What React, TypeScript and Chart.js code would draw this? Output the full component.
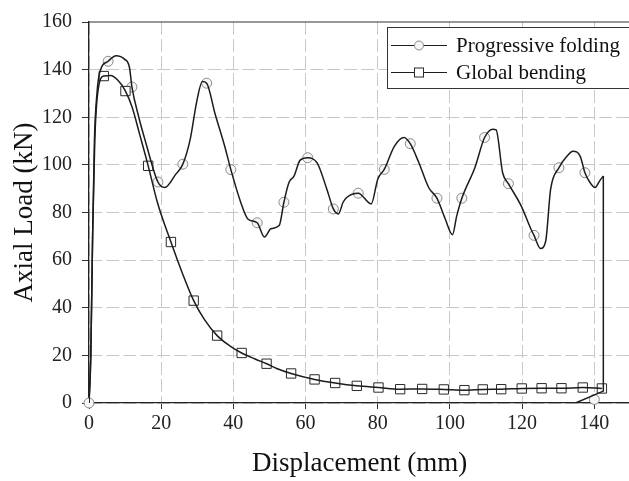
import React, { useEffect, useRef } from "react";
import { Chart, registerables } from "chart.js";

Chart.register(...registerables);

// ---- data ----
const progX = [0, 0.5, 1.0, 1.5, 2.2, 3, 5.3, 7.5, 9.8, 11.2, 11.9, 13.8, 15.8, 19.1, 21, 24, 26, 28, 29.9, 31.4, 32.6, 34.9, 37.6, 39.3, 42.1, 44, 46.6, 48.6, 50.4, 52.7, 54, 55.4, 56.8, 58.5, 60.6, 63.2, 65.9, 67.7, 69.1, 70.4, 71.4, 74.6, 78.2, 80, 81.8, 84.6, 87.3, 89, 91.4, 94.1, 96.4, 98.7, 100.7, 101.9, 103.3, 106.9, 109.6, 111.9, 112.8, 114.6, 116.2, 119.7, 122.4, 123.3, 125.1, 126.5, 127.9, 130.2, 132.4, 134.1, 136.1, 137.4, 138.8, 140.2, 141.5, 142.5];
const progY = [0, 20, 70, 110, 130, 139, 143.5, 145.8, 144.4, 141, 132.7, 120, 109, 92.8, 90.5, 96, 100.3, 110.5, 127, 135, 134.3, 121.6, 107.8, 98, 84, 77.3, 75.7, 69.7, 73.2, 74.5, 84.3, 92.6, 95.3, 102, 103, 100.8, 89.8, 81.5, 79.4, 84.3, 86.3, 88.1, 83.6, 94, 98.1, 107.8, 111.5, 108.9, 100.9, 90.5, 86, 77.3, 70.7, 78.7, 86, 98.8, 111.5, 115, 114.7, 96.7, 92.1, 82.9, 73.2, 70.4, 64.9, 67.7, 89.8, 98.8, 103.6, 105.7, 103.6, 96.7, 92.6, 90.5, 93.3, 95.3];
const progTailX = [142.5, 142.5, 134.8];
const progTailY = [95.3, 5, 0];
const progMarkX = [0, 5.3, 11.9, 19.1, 26, 32.6, 39.3, 46.6, 54, 60.6, 67.7, 74.6, 81.8, 89, 96.4, 103.3, 109.6, 116.2, 123.3, 130.2, 137.4, 140];
const progMarkY = [0, 143.5, 132.7, 92.8, 100.3, 134.3, 98, 75.7, 84.3, 103, 81.5, 88.1, 98.1, 108.9, 86, 86, 111.5, 92.1, 70.4, 98.8, 96.7, 1.5];

const globX = [0, 0.5, 1.0, 1.6, 2.4, 4.1, 6, 8, 10.1, 12, 14, 16.4, 19, 22.7, 26, 29, 32, 35.5, 39, 42.3, 46, 49.2, 52, 56, 62.5, 68.2, 74.2, 80.2, 86.2, 92.3, 98.3, 104, 109.1, 114.2, 119.9, 125.4, 130.9, 136.8, 142.1];
const globY = [0, 20, 70, 110, 130, 137.3, 137.5, 135.5, 131, 124, 113, 99.6, 84, 67.6, 54, 43, 35, 28.3, 24, 21, 18.5, 16.5, 14.5, 12.4, 9.9, 8.4, 7.2, 6.5, 5.8, 5.9, 5.7, 5.4, 5.7, 5.8, 6.1, 6.2, 6.2, 6.5, 6.1];
const globMarkX = [4.1, 10.1, 16.4, 22.7, 29, 35.5, 42.3, 49.2, 56, 62.5, 68.2, 74.2, 80.2, 86.2, 92.3, 98.3, 104, 109.1, 114.2, 119.9, 125.4, 130.9, 136.8, 142.1];
const globMarkY = [137.3, 131, 99.6, 67.6, 43, 28.3, 21, 16.5, 12.4, 9.9, 8.4, 7.2, 6.5, 5.8, 5.9, 5.7, 5.4, 5.7, 5.8, 6.1, 6.2, 6.2, 6.5, 6.1];

const xTicks = [0, 20, 40, 60, 80, 100, 120, 140];
const yTicks = [0, 20, 40, 60, 80, 100, 120, 140, 160];
const seriesNames = ["Progressive folding", "Global bending"];
const xTitle = "Displacement (mm)";
const yTitle = "Axial Load (kN)";

const pts = (xs: number[], ys: number[]) => xs.map((x, i) => ({ x, y: ys[i] }));

const FONT = "'Liberation Serif', 'Times New Roman', serif";
const LINE = "#1c1c1c";
const CIRC_BORDER = "#8a8a8a";
const CIRC_FILL = "#f6f6f6";
const SQ_BORDER = "#2a2a2a";
const GRID = "#c8c8c8";

function drawCircle(ctx: CanvasRenderingContext2D, x: number, y: number, r: number) {
  ctx.beginPath();
  ctx.arc(x, y, r, 0, Math.PI * 2);
  ctx.fillStyle = CIRC_FILL;
  ctx.fill();
  ctx.strokeStyle = CIRC_BORDER;
  ctx.lineWidth = 1;
  ctx.stroke();
}
function drawSquare(ctx: CanvasRenderingContext2D, x: number, y: number, s: number) {
  ctx.fillStyle = "#ffffff";
  ctx.fillRect(x - s / 2, y - s / 2, s, s);
  ctx.strokeStyle = SQ_BORDER;
  ctx.lineWidth = 1;
  ctx.strokeRect(x - s / 2, y - s / 2, s, s);
}

const framePlugin = {
  id: "frameAndLegend",
  afterDraw(chart: any) {
    const ctx: CanvasRenderingContext2D = chart.ctx;
    const a = chart.chartArea;
    ctx.save();
    // top border
    ctx.strokeStyle = "#333";
    ctx.lineWidth = 1.2;
    ctx.beginPath();
    ctx.moveTo(a.left, a.top);
    ctx.lineTo(a.right, a.top);
    ctx.stroke();
    // legend box
    const bx = 387.5;
    const by = 27.5;
    const bh = 61;
    ctx.fillStyle = "#ffffff";
    ctx.fillRect(bx, by, a.right - bx, bh);
    ctx.strokeStyle = "#333";
    ctx.lineWidth = 1;
    ctx.strokeRect(bx, by, a.right - bx + 5, bh);
    const rows = [by + 18, by + 45];
    seriesNames.forEach((name, i) => {
      const y = rows[i];
      ctx.strokeStyle = LINE;
      ctx.lineWidth = 1.2;
      ctx.beginPath();
      ctx.moveTo(391, y);
      ctx.lineTo(447, y);
      ctx.stroke();
      if (i === 0) drawCircle(ctx, 419, y, 4.5);
      else drawSquare(ctx, 419, y, 9);
      ctx.fillStyle = "#111";
      ctx.font = `21px ${FONT}`;
      ctx.textBaseline = "middle";
      ctx.textAlign = "left";
      ctx.fillText(name, 456, y + 1);
    });
    ctx.restore();
  },
};

export default function App() {
  const ref = useRef<HTMLCanvasElement>(null);
  useEffect(() => {
    if (!ref.current) return;
    const lineDs = (data: any[], mono: boolean) => ({
      data,
      showLine: true,
      borderColor: LINE,
      borderWidth: 1.5,
      pointRadius: 0,
      pointHoverRadius: 0,
      tension: 0,
      cubicInterpolationMode: mono ? "monotone" : "default",
      fill: false,
    });
    const chart = new Chart(ref.current, {
      type: "scatter",
      data: {
        datasets: [
          lineDs(pts(globX, globY), true) as any,
          lineDs(pts(progX, progY), true) as any,
          lineDs(pts(progTailX, progTailY), false) as any,
          {
            label: seriesNames[1],
            data: pts(globMarkX, globMarkY),
            showLine: false,
            clip: false,
            pointStyle: "rect",
            pointRadius: 6.6,
            pointBackgroundColor: "#ffffff",
            pointBorderColor: SQ_BORDER,
            pointBorderWidth: 1,
          },
          {
            label: seriesNames[0],
            data: pts(progMarkX, progMarkY),
            showLine: false,
            clip: false,
            pointStyle: "circle",
            pointRadius: 5,
            pointBackgroundColor: CIRC_FILL,
            pointBorderColor: CIRC_BORDER,
            pointBorderWidth: 1,
          },
        ],
      },
      options: {
        animation: false,
        responsive: false,
        maintainAspectRatio: false,
        layout: { padding: { top: 17, left: 0, right: 0, bottom: 0 } },
        plugins: { legend: { display: false }, tooltip: { enabled: false } },
        scales: {
          x: {
            type: "linear",
            min: 0,
            max: 150,
            afterBuildTicks: (s: any) => {
              s.ticks = xTicks.map((v) => ({ value: v }));
            },
            afterFit: (s: any) => {
              s.height = 78;
            },
            ticks: {
              font: { family: FONT, size: 20 },
              color: "#222",
              padding: 3,
              maxRotation: 0,
              autoSkip: false,
            },
            grid: {
              color: GRID,
              lineWidth: 1,
              tickLength: 6,
              tickColor: "#333",
            },
            border: { display: true, color: "#222", width: 1.3, dash: [13, 4] },
            title: {
              display: true,
              text: xTitle,
              font: { family: FONT, size: 27 },
              color: "#111",
              padding: { top: 0, bottom: 1 },
            },
          },
          y: {
            type: "linear",
            min: 0,
            max: 160,
            afterBuildTicks: (s: any) => {
              s.ticks = yTicks.map((v) => ({ value: v }));
            },
            afterFit: (s: any) => {
              s.width = 89;
            },
            ticks: {
              font: { family: FONT, size: 20 },
              color: "#222",
              padding: 10,
              autoSkip: false,
            },
            grid: {
              color: (c: any) => (c.tick && c.tick.value === 160 ? "rgba(0,0,0,0)" : GRID),
              lineWidth: 1,
              tickLength: 7,
              tickColor: "#333",
            },
            border: { display: true, color: "#222", width: 1.3, dash: [13, 4] },
            title: {
              display: true,
              text: yTitle,
              font: { family: FONT, size: 27 },
              color: "#111",
              padding: { top: 9, bottom: 0 },
            },
          },
        },
      },
      plugins: [framePlugin],
    } as any);
    return () => chart.destroy();
  }, []);
  return (
    <div style={{ position: "absolute", left: 0, top: 0, width: 629, height: 481, overflow: "hidden", background: "#fff" }}>
      <canvas ref={ref} width={638} height={481} style={{ width: 638, height: 481, display: "block" }} />
    </div>
  );
}
